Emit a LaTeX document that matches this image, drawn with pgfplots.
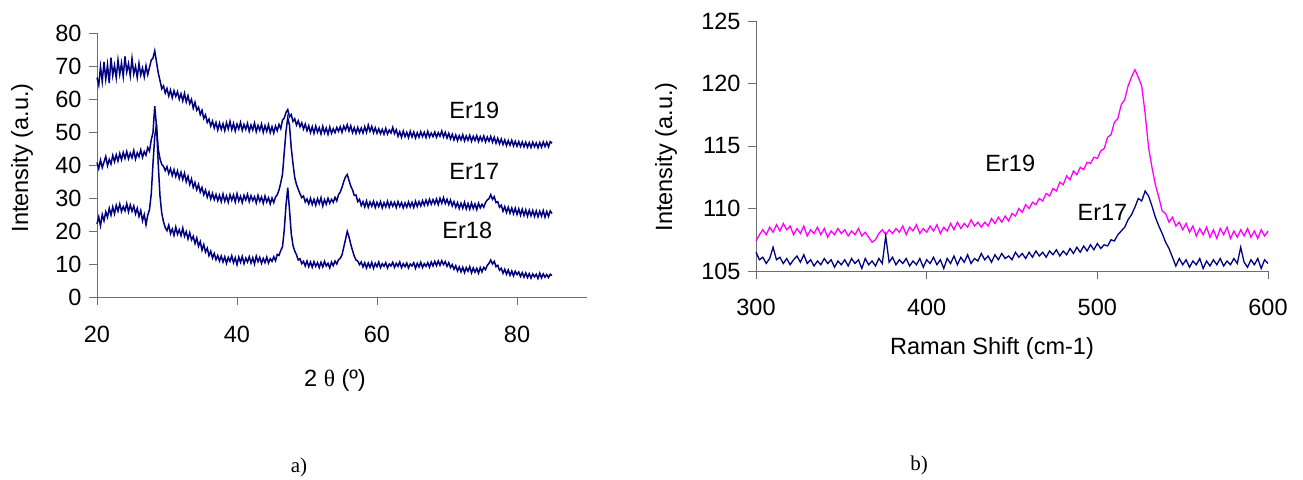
\documentclass[border=0pt]{standalone}
\usepackage{pgfplots}
\pgfplotsset{compat=1.18}
\usepackage{pgfplotstable}
\usepackage{fontspec}
\setmainfont{Liberation Sans}
\newfontfamily\serif{Liberation Serif}
\definecolor{navy}{RGB}{0,0,128}
\definecolor{pink}{RGB}{255,0,255}
\definecolor{axgray}{RGB}{110,110,110}
\newcommand\lbl{\fontsize{23.5}{26}\selectfont}

% XRD: 2theta, Er19, Er17, Er18
\pgfplotstableread{
x a b c
20.00 66.5 40.8 22.1
20.25 64.2 38.9 24.3
20.50 69.8 41.5 21.6
20.75 65.3 39.2 25.0
21.00 71.2 40.9 23.1
21.25 66.0 42.6 25.8
21.50 70.4 39.8 24.2
21.75 64.8 41.7 26.9
22.00 72.5 40.3 24.8
22.25 67.1 42.9 27.3
22.50 70.2 41.0 25.2
22.75 66.4 43.1 27.8
23.00 71.8 41.2 26.0
23.25 67.5 43.5 28.2
23.50 70.9 41.6 25.9
23.75 66.8 43.8 27.4
24.00 72.9 42.0 26.1
24.25 68.2 44.1 28.3
24.50 70.7 41.9 25.8
24.75 67.0 43.6 27.9
25.00 72.3 42.2 26.0
25.25 67.6 44.4 27.6
25.50 69.9 41.8 25.2
25.75 66.5 43.7 26.9
26.00 70.8 42.5 24.4
26.25 67.3 44.6 26.2
26.50 69.4 42.3 23.1
26.75 66.7 44.1 25.0
27.00 70.1 43.0 21.9
27.25 67.4 45.3 24.8
27.50 69.6 44.2 26.5
27.75 71.8 47.6 31.2
28.00 72.4 49.9 40.5
28.25 74.6 57.8 48.7
28.50 71.2 51.6 52.3
28.75 67.9 44.8 40.2
29.00 65.6 41.9 30.6
29.25 63.1 40.2 25.4
29.50 64.0 39.6 22.8
29.75 61.8 38.3 21.0
30.00 63.2 39.5 20.1
30.25 60.9 37.4 21.8
30.50 62.7 38.9 19.2
30.75 60.4 36.8 20.6
31.00 62.5 38.6 18.7
31.25 60.8 36.5 21.2
31.50 62.2 38.2 19.0
31.75 59.9 35.9 20.4
32.00 61.6 37.8 18.6
32.25 59.4 35.6 20.9
32.50 61.7 37.5 18.4
32.75 59.1 34.9 19.8
33.00 61.0 36.6 17.6
33.25 58.6 34.1 19.5
33.50 59.9 35.8 17.3
33.75 57.2 33.2 18.4
34.00 59.0 34.7 16.2
34.25 56.6 32.5 17.9
34.50 57.5 34.1 15.4
34.75 55.3 31.8 16.8
35.00 56.6 33.2 14.2
35.25 54.1 31.0 15.9
35.50 55.2 32.4 13.6
35.75 52.9 30.2 14.8
36.00 53.9 31.8 12.5
36.25 51.8 29.7 13.9
36.50 53.3 31.4 11.8
36.75 51.2 29.5 13.2
37.00 52.9 31.1 11.3
37.25 50.6 29.2 12.6
37.50 52.7 30.8 10.9
37.75 50.8 28.9 12.4
38.00 52.5 31.2 10.6
38.25 50.4 29.0 12.2
38.50 52.8 30.6 10.2
38.75 50.9 28.7 12.0
39.00 53.2 31.0 10.8
39.25 50.7 29.3 12.5
39.50 52.6 30.9 10.4
39.75 50.3 28.8 11.9
40.00 52.4 31.3 9.8
40.25 50.9 29.1 12.1
40.50 52.9 30.5 10.5
40.75 50.5 28.6 12.3
41.00 52.3 30.8 10.1
41.25 50.8 29.4 11.8
41.50 52.6 31.1 10.6
41.75 50.2 28.9 12.2
42.00 52.1 30.7 10.3
42.25 50.6 29.2 11.9
42.50 52.7 30.4 10.0
42.75 50.1 28.5 12.4
43.00 52.0 30.8 10.7
43.25 50.5 29.0 12.0
43.50 52.4 30.3 10.2
43.75 49.9 28.4 11.7
44.00 51.9 30.6 10.4
44.25 50.2 28.8 12.1
44.50 52.2 30.1 10.3
44.75 49.8 28.2 11.6
45.00 51.6 30.0 10.8
45.25 49.7 28.6 12.2
45.50 51.8 30.3 11.0
45.75 50.4 31.0 12.9
46.00 52.3 32.4 12.6
46.25 51.0 34.6 14.1
46.50 53.6 37.2 15.2
46.75 54.2 43.8 20.3
47.00 55.9 50.2 27.8
47.25 56.8 54.3 33.1
47.50 54.6 52.0 26.4
47.75 55.3 45.2 19.2
48.00 53.2 40.4 15.6
48.25 54.0 36.2 13.9
48.50 52.1 34.1 12.8
48.75 53.4 32.6 11.2
49.00 51.6 31.3 11.6
49.25 52.8 30.1 10.1
49.50 50.9 30.6 10.8
49.75 52.4 28.8 9.4
50.00 50.4 29.7 10.9
50.25 51.9 28.2 9.2
50.50 49.8 29.9 10.6
50.75 51.6 28.0 9.0
51.00 49.6 29.6 10.7
51.25 51.8 27.8 9.3
51.50 49.9 29.8 10.4
51.75 51.3 28.3 8.9
52.00 49.4 30.1 10.5
52.25 51.7 27.6 9.1
52.50 49.7 29.5 10.8
52.75 51.2 28.1 9.4
53.00 49.3 29.9 10.2
53.25 51.5 28.4 8.8
53.50 49.6 29.6 10.6
53.75 51.0 28.7 9.5
54.00 49.8 30.2 10.9
54.25 51.4 29.1 10.0
54.50 50.2 31.0 11.3
54.75 51.6 31.8 11.7
55.00 49.9 33.2 12.8
55.25 51.8 35.0 15.1
55.50 50.6 36.4 17.4
55.75 52.2 37.1 19.9
56.00 50.3 35.3 18.2
56.25 51.9 33.6 16.0
56.50 49.8 32.5 14.1
56.75 51.3 30.8 12.4
57.00 49.6 30.9 11.2
57.25 51.4 28.9 10.9
57.50 49.8 29.6 9.8
57.75 51.2 27.7 10.6
58.00 49.7 28.9 9.1
58.25 51.6 27.3 10.4
58.50 49.9 29.1 8.8
58.75 52.1 27.2 10.3
59.00 50.2 28.8 9.0
59.25 51.7 27.5 10.5
59.50 49.8 29.0 8.7
59.75 51.3 27.1 10.2
60.00 49.6 28.7 9.2
60.25 51.0 27.4 10.6
60.50 49.5 28.9 8.9
60.75 50.8 27.0 10.1
61.00 49.3 28.6 9.3
61.25 51.1 27.3 10.4
61.50 49.4 29.0 8.8
61.75 50.6 27.2 10.0
62.00 49.7 28.8 9.4
62.25 51.4 27.5 10.5
62.50 49.5 28.7 9.0
62.75 50.7 27.1 10.2
63.00 48.7 28.9 9.3
63.25 50.1 27.4 10.6
63.50 48.4 28.6 8.9
63.75 50.3 27.0 10.1
64.00 48.6 28.5 9.2
64.25 49.9 27.2 10.3
64.50 48.3 28.8 8.8
64.75 50.2 27.3 10.0
65.00 48.5 28.7 9.4
65.25 50.0 27.1 10.4
65.50 48.2 29.0 8.7
65.75 49.8 27.4 10.2
66.00 48.4 28.9 9.1
66.25 50.1 27.6 10.5
66.50 48.6 29.2 8.9
66.75 49.9 27.8 10.1
67.00 48.3 29.4 9.3
67.25 50.2 27.9 10.4
67.50 48.5 29.6 9.0
67.75 49.7 28.1 10.6
68.00 48.6 29.5 9.4
68.25 50.0 28.2 10.8
68.50 48.4 29.7 9.5
68.75 49.8 28.0 10.9
69.00 48.7 29.9 9.6
69.25 50.3 28.4 11.0
69.50 48.5 30.1 9.8
69.75 49.9 28.3 10.7
70.00 48.2 29.6 9.3
70.25 49.6 28.0 10.4
70.50 47.9 29.4 8.9
70.75 49.3 27.6 9.8
71.00 47.6 28.9 8.4
71.25 49.1 27.2 9.5
71.50 47.4 28.6 7.9
71.75 48.9 26.8 9.1
72.00 47.6 28.4 7.6
72.25 49.2 26.9 9.0
72.50 47.3 28.7 7.4
72.75 48.8 26.7 8.9
73.00 47.5 28.3 7.8
73.25 49.0 26.6 9.2
73.50 47.2 28.5 7.3
73.75 48.7 26.8 8.8
74.00 47.4 28.2 7.5
74.25 48.9 26.5 8.7
74.50 47.1 28.4 7.2
74.75 48.6 27.0 8.9
75.00 47.3 28.1 7.6
75.25 48.8 27.2 9.0
75.50 47.0 28.6 8.3
75.75 48.5 29.4 9.6
76.00 47.2 29.8 10.2
76.25 48.7 31.0 11.2
76.50 46.9 29.6 10.0
76.75 48.4 30.4 10.8
77.00 46.6 28.6 9.2
77.25 48.1 28.9 9.6
77.50 46.4 27.2 8.1
77.75 47.9 27.8 8.7
78.00 46.2 26.0 7.2
78.25 47.6 27.4 8.4
78.50 45.9 25.6 6.9
78.75 47.4 27.2 8.2
79.00 46.0 25.4 6.6
79.25 47.5 27.0 7.9
79.50 45.8 25.2 6.4
79.75 47.2 26.9 7.8
80.00 45.7 25.0 6.8
80.25 47.1 26.7 7.6
80.50 45.6 24.8 6.2
80.75 47.0 26.6 7.4
81.00 45.5 24.7 6.0
81.25 46.9 26.4 7.3
81.50 45.4 24.5 5.9
81.75 46.8 26.3 7.1
82.00 45.3 24.6 5.7
82.25 46.9 26.2 7.0
82.50 45.5 24.4 6.1
82.75 46.7 26.1 6.9
83.00 45.2 24.3 5.6
83.25 46.8 26.0 7.2
83.50 45.4 24.5 5.8
83.75 47.0 26.2 7.0
84.00 45.6 24.2 6.0
84.25 46.9 25.9 6.8
84.50 45.5 24.4 5.9
84.75 47.1 26.1 6.9
85.00 46.6 25.3 6.5
}\xrd

% Raman: shift, Er19, Er17
\pgfplotstableread{
x a b
300 107.4 106.5
302 107.9 105.9
304 108.3 106.1
306 107.9 105.6
308 108.5 106.0
310 108.1 106.9
312 108.7 105.9
314 108.2 106.1
316 108.8 105.6
318 108.3 106.0
320 108.6 105.5
322 107.9 105.9
324 108.4 106.2
326 108.0 105.7
328 108.6 106.3
330 107.8 105.6
332 108.3 105.9
334 108.0 105.4
336 108.5 105.8
338 107.9 105.5
340 108.4 106.0
342 107.7 105.6
344 108.2 105.9
346 107.9 105.3
348 108.4 105.8
350 108.0 105.5
352 108.3 105.9
354 107.8 105.4
356 108.2 106.0
358 107.9 105.6
360 108.4 105.9
362 107.8 105.2
364 108.1 106.0
366 107.7 105.5
368 107.3 105.8
370 107.5 105.4
372 108.0 106.0
374 108.3 105.6
376 107.9 107.8
378 108.3 105.7
380 108.0 106.1
382 108.4 105.5
384 108.1 105.9
386 108.6 105.6
388 107.9 106.0
390 108.5 105.4
392 108.2 105.8
394 108.7 105.5
396 108.0 106.0
398 108.4 105.3
400 108.1 105.9
402 108.6 105.6
404 108.2 106.1
406 108.7 105.5
408 108.0 105.9
410 108.5 105.2
412 108.2 106.0
414 108.8 105.6
416 108.3 106.2
418 108.9 105.5
420 108.4 106.1
422 108.8 105.7
424 108.5 106.3
426 109.1 105.6
428 108.6 106.0
430 108.9 105.8
432 108.5 106.4
434 108.9 105.9
436 108.6 106.2
438 109.2 105.7
440 108.8 106.3
442 109.3 105.9
444 108.9 106.4
446 109.4 106.0
448 109.0 106.2
450 109.6 105.9
452 109.4 106.5
454 110.0 106.1
456 109.7 106.4
458 110.3 106.0
460 110.0 106.5
462 110.5 106.1
464 110.3 106.6
466 110.8 106.2
468 110.6 106.5
470 111.2 106.1
472 111.0 106.6
474 111.6 106.3
476 111.4 106.7
478 112.1 106.2
480 111.9 106.6
482 112.6 106.3
484 112.3 106.8
486 113.0 106.4
488 112.7 106.9
490 113.3 106.5
492 113.1 107.0
494 113.7 106.6
496 113.6 107.1
498 114.1 106.7
500 114.0 107.2
502 114.6 106.8
504 114.8 107.1
506 115.7 107.0
508 115.9 107.5
510 116.9 107.4
512 117.2 107.9
514 118.3 108.2
516 118.7 108.5
518 119.8 109.1
520 120.5 109.5
522 121.1 110.1
524 120.5 110.8
526 119.8 110.6
528 117.6 111.4
530 114.9 111.0
532 113.3 110.2
534 111.9 109.3
536 110.9 108.6
538 109.8 108.0
540 109.6 107.3
542 108.9 106.8
544 109.3 106.1
546 108.6 105.4
548 108.9 106.0
550 108.3 105.5
552 108.8 105.9
554 108.1 105.3
556 108.6 105.8
558 107.8 105.5
560 108.4 106.0
562 107.9 105.2
564 108.5 105.8
566 107.7 105.4
568 108.3 105.9
570 107.6 105.5
572 108.4 106.0
574 107.9 105.4
576 108.5 105.8
578 107.6 105.5
580 108.2 106.0
582 107.7 105.6
584 108.3 106.9
586 107.8 105.7
588 108.4 105.3
590 107.7 105.9
592 108.2 105.5
594 107.6 106.0
596 108.3 105.2
598 107.8 105.9
600 108.2 105.6
}\raman

\pgfplotsset{
  excel/.style={
    scale only axis,
    axis x line=bottom, axis y line=left,
    axis line style={-, draw=axgray, line width=0.9pt},
    tick style={draw=axgray, line width=0.9pt},
    tick align=outside,
    major tick length=8pt,
    minor tick num=0,
    tick label style={font=\lbl},
    /pgf/number format/assume math mode=true,
    clip=false,
  },
}

\begin{document}
\begin{tikzpicture}
\path (0pt,0pt) rectangle (1303pt,477pt);

\begin{axis}[excel,
  at={(97pt,180pt)}, anchor=south west,
  width=490pt, height=264pt,
  xmin=20, xmax=90, ymin=0, ymax=80,
  xtick={20,40,60,80}, ytick={0,10,...,80},
  yticklabel style={xshift=-4pt},
  xticklabel style={yshift=-18pt},
]
\addplot[navy, line width=1.5pt] table[x=x, y=a] {\xrd};
\addplot[navy, line width=1.5pt] table[x=x, y=b] {\xrd};
\addplot[navy, line width=1.5pt] table[x=x, y=c] {\xrd};
\node[font=\lbl] at (axis cs:73.9,56.4) {Er19};
\node[font=\lbl] at (axis cs:73.9,38.2) {Er17};
\node[font=\lbl] at (axis cs:72.9,20.3) {Er18};
\end{axis}

\begin{axis}[excel,
  at={(756pt,206pt)}, anchor=south west,
  width=512pt, height=250pt,
  xmin=300, xmax=600, ymin=105, ymax=125,
  xtick={300,400,500,600}, ytick={105,110,...,125},
  yticklabel style={xshift=-4pt},
  xticklabel style={yshift=-17pt},
]
\addplot[pink, line width=1.3pt] table[x=x, y=a] {\raman};
\addplot[navy, line width=1.3pt] table[x=x, y=b] {\raman};
\node[font=\lbl] at (axis cs:449,113.6) {Er19};
\node[font=\lbl] at (axis cs:503,109.7) {Er17};
\end{axis}

\node[rotate=90, font=\lbl] at (22pt,319pt) {Intensity (a.u.)};
\node[font=\lbl] at (335pt,97pt) {2 {\serif θ} (º)};
\node[rotate=90, font=\lbl] at (666pt,320pt) {Intensity (a.u.)};
\node[font=\lbl] at (992pt,129pt) {Raman Shift (cm-1)};
\node[font=\serif\fontsize{21}{24}\selectfont] at (299pt,10pt) {a)};
\node[font=\serif\fontsize{21}{24}\selectfont] at (919pt,12pt) {b)};
\end{tikzpicture}
\end{document}
